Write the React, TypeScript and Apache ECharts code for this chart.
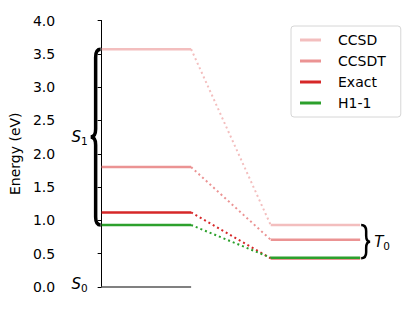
import React, { useEffect, useRef } from "react";
import * as echarts from "echarts";

const methods = ["CCSD", "CCSDT", "Exact", "H1-1"];
const methodColors = ["#f3bebe", "#eb9393", "#d62728", "#2ca02c"];
const s1Energies = [3.57, 1.8, 1.12, 0.93];
const t0Energies = [0.93, 0.71, 0.43, 0.44];
const s0Energy = 0.0;
const s1Span = [0, 1];
const t0Span = [1.889, 2.889];
const yTicks = { min: 0, max: 4, interval: 0.5 };

const FONT = "DejaVu Sans";

export default function App() {
  const ref = useRef<HTMLDivElement>(null);
  useEffect(() => {
    document.body.style.margin = "0";
    const chart = echarts.init(ref.current!, undefined, { renderer: "svg" });
    const series: any[] = [];
    series.push({
      type: "line",
      name: "S0",
      data: [[s1Span[0], s0Energy], [s1Span[1], s0Energy]],
      showSymbol: false,
      color: "#808080",
      lineStyle: { width: 2, color: "#808080" },
      silent: true,
    });
    methods.forEach((m, i) => {
      const c = methodColors[i];
      series.push({
        type: "line",
        name: m,
        data: [[s1Span[1], s1Energies[i]], [t0Span[0], t0Energies[i]]],
        showSymbol: false,
        color: c,
        lineStyle: { width: 2, color: c, type: [2, 3] },
        silent: true,
      });
    });
    methods.forEach((m, i) => {
      const c = methodColors[i];
      series.push({
        type: "line",
        name: m,
        data: [[s1Span[0], s1Energies[i]], [s1Span[1], s1Energies[i]]],
        showSymbol: false,
        color: c,
        lineStyle: { width: 2.5, color: c },
        silent: true,
      });
      series.push({
        type: "line",
        name: m,
        data: [[t0Span[0], t0Energies[i]], [t0Span[1], t0Energies[i]]],
        showSymbol: false,
        color: c,
        lineStyle: { width: 2.5, color: c },
        silent: true,
      });
    });
    const rich = {
      s: { fontStyle: "italic", fontSize: 15, fontFamily: FONT, color: "#000" },
      n: { fontSize: 10.5, fontFamily: FONT, color: "#000", padding: [8, 0, 0, 0] },
    };
    series.push({
      type: "custom",
      data: [[0, 0]],
      clip: false,
      silent: true,
      z: 10,
      renderItem: (params: any, api: any) => {
        const s1Top = Math.max(...s1Energies);
        const s1Bot = Math.min(...s1Energies);
        const t0Top = Math.max(...t0Energies);
        const t0Bot = Math.min(...t0Energies);
        const [x0, yt] = api.coord([s1Span[0], s1Top]);
        const yb = api.coord([s1Span[0], s1Bot])[1];
        const ym = (yt + yb) / 2;
        const xe = x0 - 1, xs = x0 - 6, xt = x0 - 11, r = 8;
        const leftPath = `M ${xe} ${yt} Q ${xs} ${yt} ${xs} ${yt + r} L ${xs} ${ym - r} Q ${xs} ${ym} ${xt} ${ym} Q ${xs} ${ym} ${xs} ${ym + r} L ${xs} ${yb - r} Q ${xs} ${yb} ${xe} ${yb}`;
        const [x1, ryt] = api.coord([t0Span[1], t0Top]);
        const ryb = api.coord([t0Span[1], t0Bot])[1];
        const rym = (ryt + ryb) / 2;
        const rxe = x1 + 1, rxs = x1 + 6, rxt = x1 + 10, rr = 6;
        const rightPath = `M ${rxe} ${ryt} Q ${rxs} ${ryt} ${rxs} ${ryt + rr} L ${rxs} ${rym - rr} Q ${rxs} ${rym} ${rxt} ${rym} Q ${rxs} ${rym} ${rxs} ${rym + rr} L ${rxs} ${ryb - rr} Q ${rxs} ${ryb} ${rxe} ${ryb}`;
        const y0 = api.coord([s1Span[0], s0Energy])[1];
        return {
          type: "group",
          children: [
            { type: "path", shape: { pathData: leftPath }, style: { fill: "none", stroke: "#000", lineWidth: 3.5 } },
            { type: "path", shape: { pathData: rightPath }, style: { fill: "none", stroke: "#000", lineWidth: 2.5 } },
            { type: "text", x: xt - 3, y: ym, style: { text: "{s|S}{n|1}", rich, align: "right", verticalAlign: "middle" } },
            { type: "text", x: xt - 3, y: y0 - 3, style: { text: "{s|S}{n|0}", rich, align: "right", verticalAlign: "middle" } },
            { type: "text", x: rxt + 4, y: rym, style: { text: "{s|T}{n|0}", rich, align: "left", verticalAlign: "middle" } },
          ],
        };
      },
    });
    chart.setOption({
      animation: false,
      grid: { left: 61, right: 27, top: 20.5, bottom: 24 },
      xAxis: { type: "value", min: -0.43, max: 3.2, show: false },
      yAxis: {
        type: "value",
        min: yTicks.min,
        max: yTicks.max,
        interval: yTicks.interval,
        name: "Energy (eV)",
        nameLocation: "middle",
        nameGap: 30,
        nameTextStyle: { fontSize: 14, fontFamily: FONT, color: "#000" },
        axisLine: { show: true, lineStyle: { color: "#000", width: 1 } },
        axisTick: { show: true, length: 4, lineStyle: { color: "#000" } },
        splitLine: { show: false },
        axisLabel: {
          margin: 8,
          fontSize: 14,
          fontFamily: FONT,
          color: "#000",
          formatter: (v: number) => v.toFixed(1),
        },
      },
      legend: {
        data: methods,
        orient: "vertical",
        left: 291,
        top: 26,
        icon: "rect",
        itemWidth: 21,
        itemHeight: 3,
        itemGap: 7,
        padding: [7, 15, 7, 9],
        selectedMode: false,
        backgroundColor: "#fff",
        borderColor: "#d6d6d6",
        borderWidth: 1,
        borderRadius: 3,
        textStyle: { fontSize: 14, fontFamily: FONT, color: "#000", padding: [0, 0, 0, 12], lineHeight: 14 },
      },
      series,
    });
    return () => chart.dispose();
  }, []);
  return <div ref={ref} style={{ width: 415, height: 311 }} />;
}
